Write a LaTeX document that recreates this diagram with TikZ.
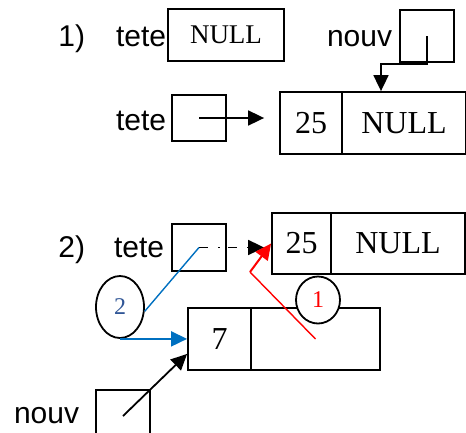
\documentclass[tikz,border=0pt]{standalone}
\usepackage{fontspec}
\setmainfont{Liberation Serif}
\newfontfamily\arialfont{Liberation Sans}
\usetikzlibrary{arrows.meta,shapes.geometric}
\definecolor{lineblue}{RGB}{0,112,192}
\definecolor{numblue}{RGB}{47,85,150}
\begin{document}
\begin{tikzpicture}[x=1pt,y=-1pt,line width=1.8pt,
  cell/.style={draw,rectangle,inner sep=0pt,font=\fontsize{32}{32}\selectfont},
  lbl/.style={inner sep=0pt,anchor=base east,font=\arialfont\fontsize{30}{30}\selectfont},
  tag/.style={draw,ellipse,fill=white,inner sep=0pt,font=\fontsize{24}{24}\selectfont},
  arr/.style={-{Triangle[length=16pt,width=15pt]}}]
  \useasboundingbox (0,0) rectangle (466,432);
  \clip (0,0) rectangle (466,432);
  % 1)
  \node[lbl] (num1) at (86,46) {1)};
  \node[lbl] (tete1) at (167,46) {tete};
  \node[cell,minimum width=116pt,minimum height=52pt,font=\fontsize{27}{27}\selectfont] (t1) at (226,35) {NULL};
  \node[lbl] (nouv1) at (393,46) {nouv};
  \node[cell,minimum width=54pt,minimum height=52pt] (n1) at (427,36) {};
  \node[lbl] (tete2) at (167,130) {tete};
  \node[cell,minimum width=54pt,minimum height=46pt] (t2) at (199,118) {};
  \node[cell,minimum width=62pt,minimum height=62pt] (aval) at (311,123) {25};
  \node[cell,minimum width=124pt,minimum height=62pt] (anext) at (404,123) {NULL};
  \draw[arr] (n1.center) -- ++(0,28) -| ([xshift=-23pt]anext.north);
  \draw[arr,shorten >=15pt] (t2.center) -- (t2.center -| aval.west);
  % 2)
  \node[lbl] (num2) at (86,257) {2)};
  \node[lbl] (tete3) at (165,257) {tete};
  \node[cell,minimum width=54pt,minimum height=47pt] (t3) at (199,247.5) {};
  \node[cell,minimum width=59pt,minimum height=61pt] (bval) at (301.5,243.5) {25};
  \node[cell,minimum width=134pt,minimum height=61pt] (bnext) at (398,243.5) {NULL};
  \node[cell,minimum width=63pt,minimum height=62pt] (cval) at (219.5,339) {7};
  \node[cell,minimum width=129pt,minimum height=62pt] (cnext) at (315.5,339) {};
  \node[lbl] (nouv2) at (80,423) {nouv};
  \node[cell,minimum width=54pt,minimum height=52pt] (n2) at (123,416) {};
  \draw[arr,dash pattern=on 9pt off 10pt on 2pt off 8pt,shorten >=7pt] (t3.center) -- (t3.center -| bval.west);
  \node[tag,minimum width=48pt,minimum height=62pt,text=numblue] (e2) at (120,307) {2};
  \draw[lineblue,line width=1.4pt] (e2.-10) -- (t3.center);
  \draw[lineblue,arr] (e2.south) -- (e2.south -| cval.west);
  \draw[arr] (n2.center) -- ([yshift=17pt]cval.south west);
  \node[tag,minimum width=44pt,minimum height=47pt,text=red] (e1) at (318,300) {1};
  \coordinate (bend) at (250,272);
  \draw[red,line width=1.4pt] (cnext.center) -- (bend);
  \draw[red,arr,line width=2pt] (bend) -- (bval.west);
\end{tikzpicture}
\end{document}
